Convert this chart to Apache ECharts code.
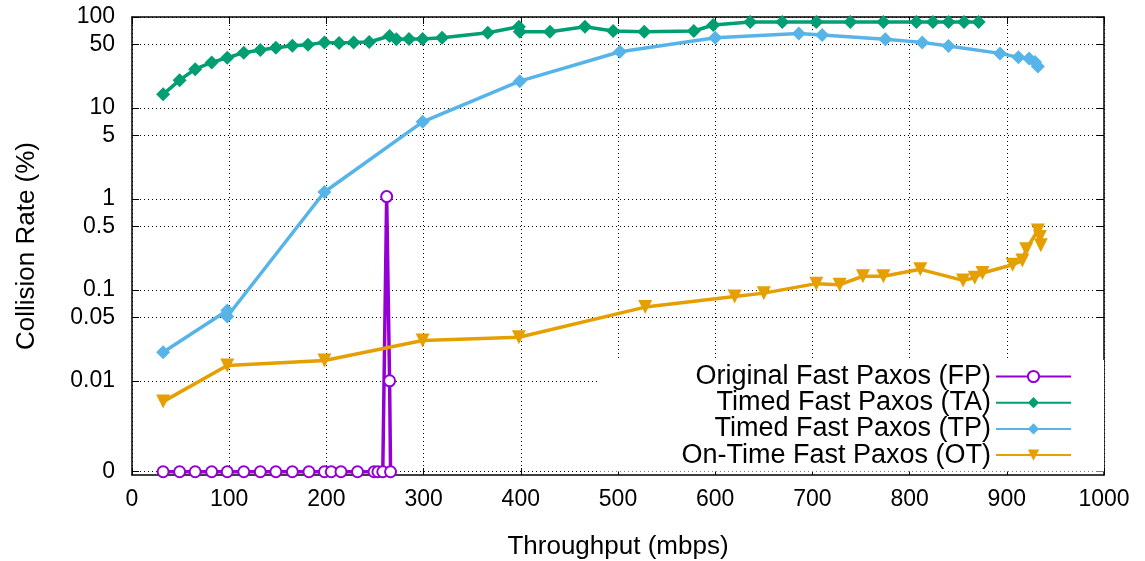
<!DOCTYPE html>
<html>
<head>
<meta charset="utf-8">
<title>Collision Rate vs Throughput</title>
<script src="https://cdn.jsdelivr.net/npm/echarts@6/dist/echarts.min.js"></script>
<style>
  html, body { margin: 0; padding: 0; background: #fff; }
  #chart { width: 1145px; height: 561px; }
</style>
</head>
<body>
<div id="chart"></div>
<script>
// values (throughput in mbps, collision rate in %)
// a rate of 0 is drawn on the "0" row at the bottom of the log axis
const fpX = [32, 49, 65, 82, 98, 115, 132, 148, 165, 182, 198, 205, 215, 232, 249, 253, 258, 262, 265, 266]
const fpY = [0, 0, 0, 0, 0, 0, 0, 0, 0, 0, 0, 0, 0, 0, 0, 0, 0, 1.06, 0.01, 0]

const taX = [32, 49, 65, 82, 98, 115, 132, 148, 165, 181, 198, 213, 228, 244, 265, 272, 285, 299, 319,
  366, 398, 399, 430, 466, 495, 527, 578, 598, 636, 669, 704, 739, 773, 807, 824, 840, 856, 871]
const taY = [14.1, 20.2, 26.7, 31.7, 35.6, 40.5, 43.3, 45.9, 48.3, 49.5, 52.6, 51.7, 52.6, 53.1, 61.8, 56.8, 57.3, 57.3, 59.2,
  67.2, 78.2, 68.9, 68.9, 78.2, 70.1, 68.9, 70.1, 81.6, 88, 88, 88, 88, 88, 88, 88, 88, 88, 88]

const tpX = [32, 98, 98, 198, 299, 399, 502, 600, 686, 710, 775, 813, 840, 893, 912, 923, 929, 932]
const tpY = [0.0206, 0.0593, 0.0509, 1.19, 7.03, 19.7, 41.5, 59.2, 66, 63.4, 56.8, 52.6, 47.9, 39.8, 36, 35, 32, 28.5]

const otX = [32, 98, 198, 299, 398, 528, 620, 650, 704, 728, 752, 773, 811, 855, 867, 875, 906, 916, 920, 932, 934, 935]
const otY = [0.0059, 0.0147, 0.0167, 0.0277, 0.0301, 0.0646, 0.0846, 0.092, 0.117, 0.114, 0.141, 0.141, 0.168,
  0.127, 0.136, 0.153, 0.189, 0.21, 0.28, 0.45, 0.38, 0.31]

const yTickValues = [0, 0.01, 0.05, 0.1, 0.5, 1, 5, 10, 50, 100]
const yTickLabels = ['0', '0.01', '0.05', '0.1', '0.5', '1', '5', '10', '50', '100']

const ZERO_AT = 0.001
const FONT = 'Liberation Sans'

function toLog(v) {
  return Math.log10(v === 0 ? ZERO_AT : v)
}
function pairs(xs, ys) {
  return xs.map((x, i) => [x, toLog(ys[i])])
}

const yTicks = yTickValues.map(toLog)
function yLabel(v) {
  let best = 0
  for (let i = 1; i < yTicks.length; i++) {
    if (Math.abs(yTicks[i] - v) < Math.abs(yTicks[best] - v)) best = i
  }
  return yTickLabels[best]
}

const gridLine = { show: true, lineStyle: { color: '#000', width: 1, type: [1, 3] } }
const border = { show: true, onZero: false, lineStyle: { color: '#000', width: 1.5 } }
const tick = { show: true, inside: true, length: 7, lineStyle: { color: '#000', width: 1 } }

const chart = echarts.init(document.getElementById('chart'))

chart.setOption({
  animation: false,
  textStyle: { fontFamily: FONT },
  grid: { left: 132, right: 41, top: 17, bottom: 86, outerBoundsMode: 'none' },
  legend: {
    orient: 'vertical',
    align: 'right',
    right: 41,
    top: 360,
    padding: [3, 32, 3, 84],
    backgroundColor: '#fff',
    itemWidth: 75,
    itemHeight: 14,
    itemGap: -0.8,
    textStyle: { fontFamily: FONT, fontSize: 27, lineHeight: 25.5, color: '#000' },
    data: ['Original Fast Paxos (FP)', 'Timed Fast Paxos (TA)', 'Timed Fast Paxos (TP)', 'On-Time Fast Paxos (OT)'],
  },
  xAxis: [
    {
      type: 'value',
      min: 0,
      max: 1000,
      interval: 100,
      name: 'Throughput (mbps)',
      nameLocation: 'middle',
      nameGap: 59,
      nameTextStyle: { fontFamily: FONT, fontSize: 26, color: '#000' },
      axisLine: border,
      axisTick: tick,
      splitLine: gridLine,
      axisLabel: { margin: 13, fontFamily: FONT, fontSize: 23, color: '#000', formatter: v => String(v) },
    },
    {
      type: 'value',
      position: 'top',
      min: 0,
      max: 1000,
      interval: 100,
      axisLine: border,
      axisTick: tick,
      splitLine: { show: false },
      axisLabel: { show: false },
    },
  ],
  yAxis: [
    {
      type: 'value',
      min: -3.036,
      max: 2,
      name: 'Collision Rate (%)',
      nameLocation: 'middle',
      nameGap: 92,
      nameTextStyle: { fontFamily: FONT, fontSize: 26, color: '#000' },
      axisLine: border,
      axisTick: Object.assign({}, tick, { customValues: yTicks }),
      splitLine: gridLine,
      axisLabel: {
        customValues: yTicks,
        formatter: yLabel,
        margin: 17,
        fontFamily: FONT,
        fontSize: 23,
        color: '#000',
      },
    },
    {
      type: 'value',
      position: 'right',
      min: -3.036,
      max: 2,
      axisLine: border,
      axisTick: Object.assign({}, tick, { customValues: yTicks }),
      splitLine: { show: false },
      axisLabel: { show: false },
    },
  ],
  series: [
    {
      name: 'Original Fast Paxos (FP)',
      type: 'line',
      data: pairs(fpX, fpY),
      symbol: 'emptyCircle',
      symbolSize: 11,
      lineStyle: { width: 3.5, color: '#9400d3' },
      itemStyle: { color: '#9400d3', borderColor: '#9400d3', borderWidth: 3.5 },
    },
    {
      name: 'Timed Fast Paxos (TA)',
      type: 'line',
      data: pairs(taX, taY),
      symbol: 'diamond',
      symbolSize: 14,
      lineStyle: { width: 3.5, color: '#009e73' },
      itemStyle: { color: '#009e73' },
    },
    {
      name: 'Timed Fast Paxos (TP)',
      type: 'line',
      data: pairs(tpX, tpY),
      symbol: 'diamond',
      symbolSize: 14,
      lineStyle: { width: 3.5, color: '#56b4e9' },
      itemStyle: { color: '#56b4e9' },
    },
    {
      name: 'On-Time Fast Paxos (OT)',
      type: 'line',
      data: pairs(otX, otY),
      symbol: 'triangle',
      symbolRotate: 180,
      symbolSize: 14,
      lineStyle: { width: 3.5, color: '#e69f00' },
      itemStyle: { color: '#e69f00' },
    },
  ],
})

window.addEventListener('resize', () => chart.resize())
</script>
</body>
</html>
